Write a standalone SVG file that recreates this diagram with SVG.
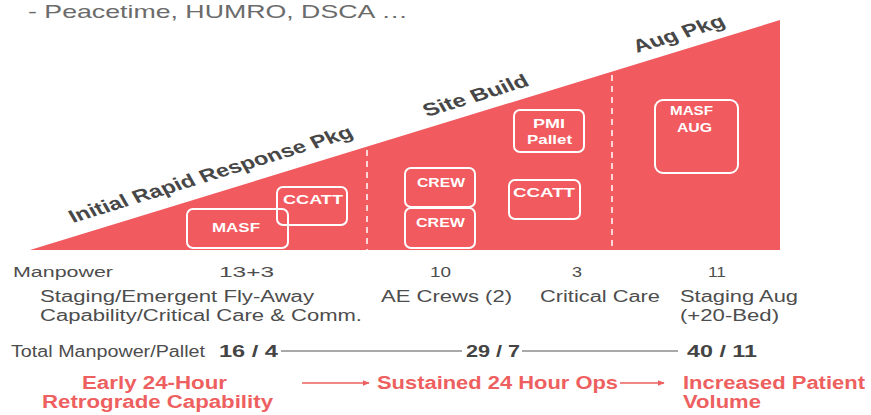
<svg xmlns="http://www.w3.org/2000/svg" width="871" height="415" viewBox="0 0 871 415">
<defs>
<style>
.t{font-family:"Liberation Sans",Arial,sans-serif;}
.g{fill:#4d4d4d;}
.bx{fill:none;stroke:#ffffff;stroke-width:2;}
.bt{font-family:"Liberation Sans",Arial,sans-serif;font-weight:bold;font-size:13px;fill:#ffffff;}
.rl{font-family:"Liberation Sans",Arial,sans-serif;font-weight:bold;font-size:18px;fill:#474747;}
.red{font-family:"Liberation Sans",Arial,sans-serif;font-weight:bold;font-size:18px;fill:#ee5f5f;}
.dash{stroke:#ffffff;stroke-width:1.5;stroke-dasharray:6 5;}
.ln{stroke:#555555;stroke-width:1.2;fill:none;}
.ar{stroke:#ee5f5f;stroke-width:1.3;fill:none;}
</style>
<marker id="ah" viewBox="0 0 10 10" refX="9" refY="5" markerWidth="7" markerHeight="7" markerUnits="userSpaceOnUse" orient="auto">
<path d="M0,1 L10,5 L0,9 Z" fill="#ee5f5f"/>
</marker>
</defs>
<rect width="871" height="415" fill="#ffffff"/>
<text class="t" x="28" y="18" font-size="19" fill="#6b6b6b" textLength="380" lengthAdjust="spacingAndGlyphs">- Peacetime, HUMRO, DSCA …</text>

<g id="wedge">
<polygon points="30,250 780,20 780,250" fill="#f15a5f"/>
<line class="dash" x1="367" y1="150" x2="367" y2="250"/>
<line class="dash" x1="612" y1="75" x2="612" y2="250"/>
</g>

<g id="label-initial">
<text class="rl" transform="translate(73,223) scale(1.37,1) rotate(-22.8)" x="0" y="0" textLength="223" lengthAdjust="spacingAndGlyphs">Initial Rapid Response Pkg</text>
</g>
<g id="label-site">
<text class="rl" transform="translate(427,117) scale(1.37,1) rotate(-22.8)" x="0" y="0" textLength="82" lengthAdjust="spacingAndGlyphs">Site Build</text>
</g>
<g id="label-aug">
<text class="rl" transform="translate(637,53) scale(1.37,1) rotate(-22.8)" x="0" y="0" textLength="71" lengthAdjust="spacingAndGlyphs">Aug Pkg</text>
</g>

<g id="masf">
<rect class="bx" x="187" y="209" width="101" height="39" rx="6"/>
<text class="bt" x="212" y="232" textLength="48" lengthAdjust="spacingAndGlyphs">MASF</text>
</g>
<g id="ccatt1">
<rect class="bx" x="277" y="187" width="70" height="38" rx="6"/>
<text class="bt" x="283" y="204" textLength="60" lengthAdjust="spacingAndGlyphs">CCATT</text>
</g>
<g id="crew1">
<rect class="bx" x="405" y="168" width="70" height="39" rx="6"/>
<text class="bt" x="417" y="187" textLength="48" lengthAdjust="spacingAndGlyphs">CREW</text>
</g>
<g id="crew2">
<rect class="bx" x="405" y="208" width="70" height="40" rx="6"/>
<text class="bt" x="416" y="227" textLength="49" lengthAdjust="spacingAndGlyphs">CREW</text>
</g>
<g id="pmi">
<rect class="bx" x="514" y="110" width="70" height="42" rx="6"/>
<text class="bt" x="533" y="128" textLength="32" lengthAdjust="spacingAndGlyphs">PMI</text>
<text class="bt" x="527" y="144" textLength="45" lengthAdjust="spacingAndGlyphs">Pallet</text>
</g>
<g id="ccatt2">
<rect class="bx" x="509" y="180" width="71" height="39" rx="6"/>
<text class="bt" x="513" y="197" textLength="62" lengthAdjust="spacingAndGlyphs">CCATT</text>
</g>
<g id="masfaug">
<rect class="bx" x="655" y="100" width="83" height="73" rx="8"/>
<text class="bt" x="670" y="115" textLength="43" lengthAdjust="spacingAndGlyphs">MASF</text>
<text class="bt" x="677" y="132" textLength="35" lengthAdjust="spacingAndGlyphs">AUG</text>
</g>

<g id="manpower-row">
<text class="t g" x="13" y="277" font-size="15.5" textLength="100" lengthAdjust="spacingAndGlyphs">Manpower</text>
<text class="t g" x="219" y="277" font-size="15.5" textLength="55" lengthAdjust="spacingAndGlyphs">13+3</text>
<text class="t g" x="430" y="277" font-size="15.5" textLength="21" lengthAdjust="spacingAndGlyphs">10</text>
<text class="t g" x="572" y="277" font-size="15.5" textLength="10" lengthAdjust="spacingAndGlyphs">3</text>
<text class="t g" x="708" y="277" font-size="15.5" textLength="18" lengthAdjust="spacingAndGlyphs">11</text>
</g>
<g id="desc-row">
<text class="t g" x="40" y="302" font-size="16" textLength="274" lengthAdjust="spacingAndGlyphs">Staging/Emergent Fly-Away</text>
<text class="t g" x="40" y="321" font-size="16" textLength="322" lengthAdjust="spacingAndGlyphs">Capability/Critical Care &amp; Comm.</text>
<text class="t g" x="381" y="302" font-size="16" textLength="131" lengthAdjust="spacingAndGlyphs">AE Crews (2)</text>
<text class="t g" x="540" y="302" font-size="16" textLength="120" lengthAdjust="spacingAndGlyphs">Critical Care</text>
<text class="t g" x="680" y="302" font-size="16" textLength="118" lengthAdjust="spacingAndGlyphs">Staging Aug</text>
<text class="t g" x="680" y="321" font-size="16" textLength="99" lengthAdjust="spacingAndGlyphs">(+20-Bed)</text>
</g>
<g id="total-row">
<text class="t g" x="11" y="357" font-size="16" textLength="194" lengthAdjust="spacingAndGlyphs">Total Manpower/Pallet</text>
<text class="t" x="219" y="357" font-size="17" font-weight="bold" fill="#444444" textLength="59" lengthAdjust="spacingAndGlyphs">16 / 4</text>
<text class="t" x="466" y="357" font-size="17" font-weight="bold" fill="#444444" textLength="54" lengthAdjust="spacingAndGlyphs">29 / 7</text>
<text class="t" x="687" y="357" font-size="17" font-weight="bold" fill="#444444" textLength="70" lengthAdjust="spacingAndGlyphs">40 / 11</text>
</g>
<g id="capability-row">
<text class="red" x="82" y="389" textLength="145" lengthAdjust="spacingAndGlyphs">Early 24-Hour</text>
<text class="red" x="42" y="408" textLength="231" lengthAdjust="spacingAndGlyphs">Retrograde Capability</text>
<text class="red" x="377" y="389" textLength="241" lengthAdjust="spacingAndGlyphs">Sustained 24 Hour Ops</text>
<text class="red" x="683" y="389" textLength="182" lengthAdjust="spacingAndGlyphs">Increased Patient</text>
<text class="red" x="683" y="408" textLength="78" lengthAdjust="spacingAndGlyphs">Volume</text>
</g>

<g id="connectors">
<line class="ln" x1="281" y1="351" x2="462" y2="351"/>
<line class="ln" x1="522" y1="351" x2="678" y2="351"/>
<line class="ar" x1="302" y1="383" x2="369" y2="383" marker-end="url(#ah)"/>
<line class="ar" x1="620" y1="383" x2="664" y2="383" marker-end="url(#ah)"/>
</g>
</svg>
